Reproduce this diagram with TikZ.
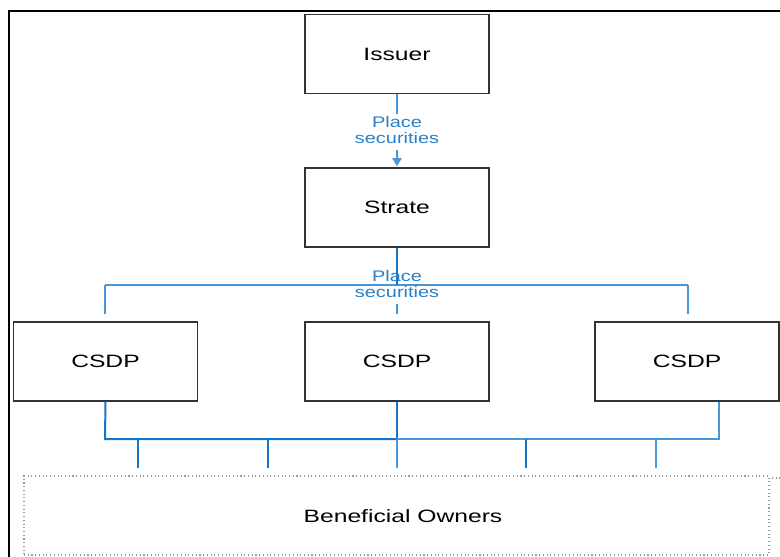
\documentclass[tikz,border=0pt]{standalone}
\usepackage{fontspec}
\setmainfont{Liberation Sans}
\usepackage{graphicx}
\usetikzlibrary{arrows.meta,calc}
\definecolor{boxline}{HTML}{333333}
\definecolor{bluedark}{HTML}{1874C4}
\definecolor{bluelight}{HTML}{4596DA}
\definecolor{bluetext}{HTML}{2A80C6}
\definecolor{dotgray}{HTML}{999999}
\newcommand{\mywide}[1]{\scalebox{1.38}[1]{#1}}
\newcommand{\mywideb}[1]{\scalebox{1.3}[1]{#1}}
\tikzset{
  entity/.style={draw=boxline, line width=0.8pt, minimum width=138pt, minimum height=59.25pt, inner sep=0pt,
    font=\fontsize{13.4}{15}\selectfont},
  owners/.style={draw=dotgray, dotted, line width=0.8pt, minimum width=558.75pt, minimum height=59.25pt, inner sep=0pt},
  ownerstext/.style={inner sep=0pt, font=\fontsize{13.4}{15}\selectfont},
  flowlabel/.style={text=bluetext, inner sep=1pt, font=\fontsize{11.5}{12}\selectfont},
  thickblue/.style={draw=bluedark, line width=1.5pt},
  thinblue/.style={draw=bluelight, line width=1.1pt},
}
\begin{document}
\begin{tikzpicture}[x=0.75pt,y=-0.75pt]
\useasboundingbox (0,0) rectangle (780,556);
% outer frame
\draw[black, line width=1.5pt] (9,557) -- (9,11) -- (781,11);

% boxes
\node[entity] (issuer) at (397,54) {\mywide{Issuer}};
\node[entity] (strate) at (397,207.5) {\mywide{Strate}};
\node[entity] (c1) at (105.5,361.5) {\mywide{CSDP}};
\node[entity] (c2) at (397,361.5) {\mywide{CSDP}};
\node[entity] (c3) at (687,361.5) {\mywide{CSDP}};
\node[owners] (bo) at (396.5,515.5) {};
\node[ownerstext] (botext) at (403,516) {\mywide{Beneficial Owners}};
\draw[dotgray, dotted, line width=0.8pt] (772,478) -- (781,478);

% issuer -> strate
\node[flowlabel] (pl1) at (397,132) {\mywideb{\begin{tabular}{@{}c@{}}Place\\securities\end{tabular}}};
\draw[thinblue] (issuer.south) -- (pl1.north);
\draw[thinblue, -{Triangle[length=6pt,width=7pt]}, shorten >=1pt] (pl1.south) -- (strate.north);

% strate -> csdps
\coordinate (bt) at (397,285);
\coordinate (bl) at (105,285);
\coordinate (br) at (688,285);
\coordinate (dl) at (105,314);
\coordinate (dm) at (397,314);
\coordinate (dr) at (688,314);
\draw[thinblue] (bl) -- (br);
\draw[thinblue] (bl) -- (dl);
\draw[thinblue] (br) -- (dr);
\draw[thickblue] (strate.south) -- (bt);
\node[flowlabel] (pl2) at (397,286) {\mywideb{\begin{tabular}{@{}c@{}}Place\\securities\end{tabular}}};
\draw[thinblue] (pl2.south) -- (dm);

% csdps -> beneficial owners
\coordinate (b1) at (105,439);
\coordinate (b2) at (397,439);
\coordinate (b3) at (719,439);
\coordinate (c3b) at ($(c3.south)+(32,0)$);
\draw[thickblue] (c1.south) -- (b1) -- (b2);
\draw[thickblue] (c2.south) -- (b2);
\draw[bluelight, line width=1.5pt] (b2) -- (b3) -- (c3b);
\foreach \i/\x/\c in {1/138/bluedark, 2/268/bluedark, 3/397/bluelight, 4/526/bluedark, 5/656/bluelight}{
  \coordinate (t\i) at (\x,439);
  \coordinate (u\i) at (\x,468);
  \draw[\c, line width=1.3pt] (t\i) -- (u\i);
}
\end{tikzpicture}
\end{document}
